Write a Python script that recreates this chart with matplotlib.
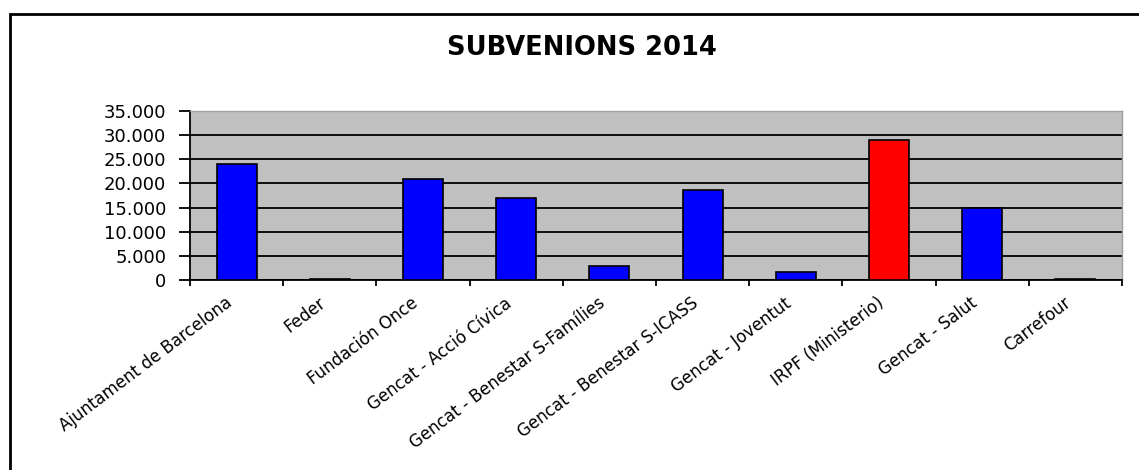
import matplotlib.pyplot as plt
import matplotlib.patches as mpatches
import matplotlib.transforms as mtransforms
import numpy as np
from matplotlib.ticker import FuncFormatter

categories = ["Ajuntament de Barcelona", "Feder", "Fundación Once",
              "Gencat - Acció Cívica", "Gencat - Benestar S-Famílies",
              "Gencat - Benestar S-ICASS", "Gencat - Joventut",
              "IRPF (Ministerio)", "Gencat - Salut", "Carrefour"]
values = [24000, 300, 21000, 16900, 2900, 18700, 1700, 29000, 14900, 300]
bar_colors = ["#0000FF"] * 7 + ["#FF0000"] + ["#0000FF"] * 2
yticks = [0, 5000, 10000, 15000, 20000, 25000, 30000, 35000]

plt.rcParams['font.family'] = ['DejaVu Sans']

fig = plt.figure(figsize=(11.39, 4.70), dpi=100)
ax = fig.add_axes([0.1668, 0.404, 0.8182, 0.360])
ax.set_facecolor('#C0C0C0')

x = np.arange(len(categories))
ax.bar(x, values, width=0.43, color=bar_colors, edgecolor='black', linewidth=1.2, zorder=3)

ax.set_ylim(0, 35000)
ax.set_xlim(-0.5, len(categories) - 0.5)
ax.set_yticks(yticks)
ax.yaxis.set_major_formatter(FuncFormatter(lambda v, p: f"{int(v):,}".replace(",", ".")))
ax.yaxis.grid(True, color='black', linewidth=1.3, zorder=1)
ax.set_axisbelow(True)

# category boundaries as ticks, labels at centers
ax.set_xticks(np.arange(-0.5, len(categories)), minor=False)
ax.set_xticklabels([])
ax.set_xticks(x, minor=True)
ax.set_xticklabels(categories, minor=True, rotation=37, ha='right',
                   rotation_mode='anchor', fontsize=12)
ax.tick_params(axis='x', which='minor', length=0, pad=10)
ax.tick_params(axis='x', which='major', length=4, width=1.3, direction='out')
ax.tick_params(axis='y', length=8, width=1.3, direction='out', labelsize=13, pad=9)

# nudge the rotated labels a little to the left
shift = mtransforms.ScaledTranslation(-12 / 100, 0, fig.dpi_scale_trans)
for lab in ax.get_xticklabels(minor=True):
    lab.set_transform(lab.get_transform() + shift)

for s in ['top', 'right']:
    ax.spines[s].set_color('#A0A0A0')
    ax.spines[s].set_linewidth(1)
for s in ['left', 'bottom']:
    ax.spines[s].set_color('black')
    ax.spines[s].set_linewidth(1.3)

fig.text(0.511, 0.897, "SUBVENIONS 2014", ha='center', va='center',
         fontsize=18.5, fontweight='bold')

border = mpatches.Rectangle((10 / 1139, -0.2), 1.2, 0.2 + (1 - 14 / 470),
                            transform=fig.transFigure, fill=False,
                            edgecolor='black', linewidth=2, clip_on=False)
fig.patches.append(border)

plt.savefig('out.png', dpi=100)
